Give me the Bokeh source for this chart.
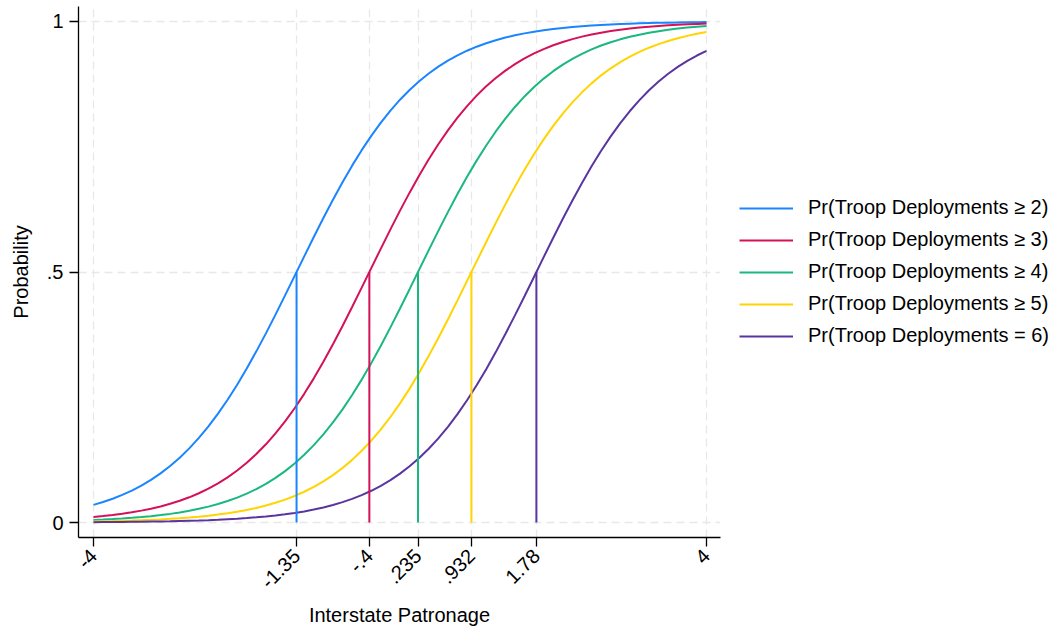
from bokeh.plotting import figure
from bokeh.layouts import row
from bokeh.models import Range1d, FixedTicker, Legend, LegendItem
from bokeh.embed import file_html
from bokeh.resources import INLINE
import math

# ---- data ----
# values at quarter steps
x_q = [-4.0, -3.75, -3.5, -3.25, -3.0, -2.75, -2.5, -2.25, -2.0, -1.75, -1.5, -1.25,
       -1.0, -0.75, -0.5, -0.25, 0.0, 0.25, 0.5, 0.75, 1.0, 1.25, 1.5, 1.75,
       2.0, 2.25, 2.5, 2.75, 3.0, 3.25, 3.5, 3.75, 4.0]
# values in between (eighth steps)
x_m = [-3.875, -3.625, -3.375, -3.125, -2.875, -2.625, -2.375, -2.125, -1.875, -1.625,
       -1.375, -1.125, -0.875, -0.625, -0.375, -0.125, 0.125, 0.375, 0.625, 0.875,
       1.125, 1.375, 1.625, 1.875, 2.125, 2.375, 2.625, 2.875, 3.125, 3.375, 3.625, 3.875]

pr_ge2_q = [0.0352, 0.0474, 0.0637, 0.0851, 0.1128, 0.1480, 0.1919, 0.2450, 0.3073, 0.3775,
            0.4533, 0.5312, 0.6077, 0.6792, 0.7432, 0.7982, 0.8439, 0.8808, 0.9099, 0.9325,
            0.9497, 0.9627, 0.9724, 0.9797, 0.9850, 0.9890, 0.9919, 0.9941, 0.9957, 0.9968,
            0.9977, 0.9983, 0.9988]
pr_ge2_m = [0.0408, 0.0550, 0.0737, 0.0981, 0.1294, 0.1689, 0.2173, 0.2751, 0.3416, 0.4149,
            0.4922, 0.5699, 0.6442, 0.7123, 0.7718, 0.8222, 0.8634, 0.8962, 0.9219, 0.9417,
            0.9566, 0.9679, 0.9763, 0.9826, 0.9872, 0.9906, 0.9931, 0.9949, 0.9963, 0.9973,
            0.9980, 0.9985]

pr_ge3_q = [0.0110, 0.0150, 0.0203, 0.0276, 0.0373, 0.0503, 0.0676, 0.0901, 0.1192, 0.1561,
            0.2018, 0.2568, 0.3208, 0.3923, 0.4688, 0.5467, 0.6225, 0.6927, 0.7549, 0.8081,
            0.8520, 0.8872, 0.9149, 0.9363, 0.9526, 0.9648, 0.9741, 0.9809, 0.9859, 0.9897,
            0.9924, 0.9944, 0.9959]
pr_ge3_m = [0.0128, 0.0174, 0.0237, 0.0321, 0.0434, 0.0584, 0.0781, 0.1038, 0.1366, 0.1778,
            0.2281, 0.2877, 0.3558, 0.4301, 0.5078, 0.5851, 0.6584, 0.7249, 0.7827, 0.8311,
            0.8706, 0.9019, 0.9263, 0.9450, 0.9592, 0.9698, 0.9777, 0.9836, 0.9879, 0.9912,
            0.9935, 0.9952]

pr_ge4_q = [0.0050, 0.0068, 0.0093, 0.0127, 0.0172, 0.0234, 0.0317, 0.0429, 0.0577, 0.0772,
            0.1026, 0.1352, 0.1760, 0.2259, 0.2852, 0.3529, 0.4271, 0.5047, 0.5820, 0.6556,
            0.7223, 0.7805, 0.8294, 0.8692, 0.9008, 0.9254, 0.9444, 0.9587, 0.9694, 0.9774,
            0.9834, 0.9878, 0.9910]
pr_ge4_m = [0.0058, 0.0080, 0.0109, 0.0148, 0.0201, 0.0273, 0.0369, 0.0497, 0.0668, 0.0891,
            0.1179, 0.1545, 0.1998, 0.2545, 0.3181, 0.3894, 0.4657, 0.5436, 0.6195, 0.6900,
            0.7526, 0.8061, 0.8504, 0.8860, 0.9139, 0.9355, 0.9520, 0.9644, 0.9737, 0.9806,
            0.9858, 0.9895]

pr_ge5_q = [0.0021, 0.0029, 0.0039, 0.0053, 0.0073, 0.0099, 0.0135, 0.0184, 0.0250, 0.0338,
            0.0456, 0.0614, 0.0820, 0.1088, 0.1431, 0.1858, 0.2378, 0.2989, 0.3682, 0.4434,
            0.5212, 0.5981, 0.6704, 0.7355, 0.7917, 0.8386, 0.8765, 0.9066, 0.9299, 0.9477,
            0.9612, 0.9713, 0.9789]
pr_ge5_m = [0.0025, 0.0034, 0.0046, 0.0062, 0.0085, 0.0116, 0.0158, 0.0214, 0.0291, 0.0393,
            0.0530, 0.0710, 0.0946, 0.1250, 0.1633, 0.2106, 0.2672, 0.3326, 0.4053, 0.4822,
            0.5600, 0.6350, 0.7040, 0.7647, 0.8163, 0.8586, 0.8925, 0.9190, 0.9394, 0.9549,
            0.9666, 0.9754]

pr_eq6_q = [0.0007, 0.0010, 0.0014, 0.0019, 0.0025, 0.0035, 0.0047, 0.0065, 0.0088, 0.0120,
            0.0163, 0.0221, 0.0300, 0.0406, 0.0547, 0.0733, 0.0975, 0.1287, 0.1680, 0.2163,
            0.2739, 0.3401, 0.4134, 0.4906, 0.5683, 0.6428, 0.7109, 0.7708, 0.8213, 0.8627,
            0.8957, 0.9215, 0.9413]
pr_eq6_m = [0.0009, 0.0012, 0.0016, 0.0022, 0.0030, 0.0040, 0.0055, 0.0075, 0.0103, 0.0140,
            0.0190, 0.0258, 0.0349, 0.0471, 0.0633, 0.0846, 0.1122, 0.1473, 0.1910, 0.2440,
            0.3061, 0.3761, 0.4517, 0.5297, 0.6062, 0.6778, 0.7420, 0.7972, 0.8431, 0.8801,
            0.9094, 0.9321]

series_labels = ["Pr(Troop Deployments \u2265 2)", "Pr(Troop Deployments \u2265 3)",
                 "Pr(Troop Deployments \u2265 4)", "Pr(Troop Deployments \u2265 5)",
                 "Pr(Troop Deployments = 6)"]
series_q = [pr_ge2_q, pr_ge3_q, pr_ge4_q, pr_ge5_q, pr_eq6_q]
series_m = [pr_ge2_m, pr_ge3_m, pr_ge4_m, pr_ge5_m, pr_eq6_m]

# x where each curve crosses 0.5 (drop lines)
cross_x = [-1.35, -0.4, 0.235, 0.932, 1.78]
cross_y = [0.5, 0.5, 0.5, 0.5, 0.5]

x_ticks = [-4, -1.35, -0.4, 0.235, 0.932, 1.78, 4]
x_tick_labels = ["-4", "-1.35", "-.4", ".235", ".932", "1.78", "4"]
y_ticks = [0, 0.5, 1]
y_tick_labels = ["0", ".5", "1"]

colors = ["#1A85FF", "#D41159", "#1AB87F", "#FFD400", "#5A35A0"]

FONT = "Liberation Sans"

# ---- main plot ----
p = figure(width=730, height=628, output_backend="svg", toolbar_location=None,
           x_range=Range1d(-4.1958, 4.1827), y_range=Range1d(-0.02994, 1.02994),
           min_border_left=78, min_border_right=10, min_border_top=6,
           min_border_bottom=91)
p.outline_line_color = None
p.background_fill_color = "white"
p.border_fill_color = "white"

for vq, vm, col in zip(series_q, series_m, colors):
    pts = sorted(list(zip(x_q, vq)) + list(zip(x_m, vm)))
    xs = [a for a, b in pts]
    ys = [b for a, b in pts]
    p.line(xs, ys, line_color=col, line_width=2)

zeros = [0] * len(cross_x)
p.segment(x0=cross_x, y0=zeros, x1=cross_x, y1=cross_y, line_color=colors, line_width=2)

p.xaxis.ticker = FixedTicker(ticks=x_ticks)
p.xaxis.major_label_overrides = {t: l for t, l in zip(x_ticks, x_tick_labels)}
p.yaxis.ticker = FixedTicker(ticks=y_ticks)
p.yaxis.major_label_overrides = {t: l for t, l in zip(y_ticks, y_tick_labels)}
p.xaxis.axis_label = "Interstate Patronage"
p.yaxis.axis_label = "Probability"
p.xaxis.major_label_orientation = math.pi / 4
p.yaxis.major_label_orientation = "horizontal"
for ax in (p.xaxis[0], p.yaxis[0]):
    ax.axis_line_color = "black"
    ax.axis_line_width = 1.3
    ax.major_tick_line_color = "black"
    ax.major_tick_line_width = 1.3
    ax.major_tick_out = 9
    ax.major_tick_in = 0
    ax.minor_tick_line_color = None
    ax.major_label_text_font = FONT
    ax.major_label_text_font_size = "20px"
    ax.major_label_text_color = "black"
    ax.axis_label_text_font = FONT
    ax.axis_label_text_font_size = "20px"
    ax.axis_label_text_font_style = "normal"
    ax.axis_label_text_color = "black"
    ax.major_label_standoff = 6
p.xaxis.axis_label_standoff = 6
p.yaxis.axis_label_standoff = 12

for g in (p.xgrid[0], p.ygrid[0]):
    g.grid_line_color = "#E8E8E8"
    g.grid_line_width = 1.3
    g.grid_line_dash = "8 5"
p.xgrid.ticker = FixedTicker(ticks=x_ticks)
p.ygrid.ticker = FixedTicker(ticks=y_ticks)

# ---- legend panel (separate figure to the right) ----
q = figure(width=322, height=628, output_backend="svg", toolbar_location=None,
           x_range=Range1d(0, 1), y_range=Range1d(0, 1),
           x_axis_type=None, y_axis_type=None,
           min_border_left=0, min_border_right=0, min_border_top=6, min_border_bottom=91)
q.outline_line_color = None
q.grid.visible = False
q.background_fill_color = "white"
q.border_fill_color = "white"

items = []
for lab, col in zip(series_labels, colors):
    # key-only renderer: its points lie outside the visible range
    r = q.line([5, 6], [5, 6], line_color=col, line_width=2)
    items.append(LegendItem(label=lab, renderers=[r]))

legend = Legend(items=items, location=(9, 190), orientation="vertical",
                label_text_font=FONT, label_text_font_size="20px",
                label_text_color="black", glyph_width=54, glyph_height=20,
                label_height=20, label_standoff=15, spacing=9, padding=0,
                margin=0, border_line_color=None, background_fill_alpha=0)
q.add_layout(legend, "center")

layout = row(p, q, spacing=0)
open("out.html", "w").write(file_html(layout, INLINE))
